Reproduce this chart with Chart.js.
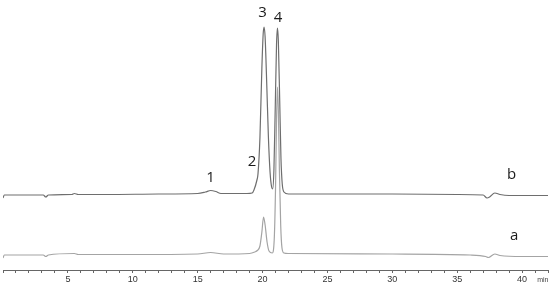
<!DOCTYPE html>
<html>
<head>
<meta charset="utf-8">
<script src="https://cdn.jsdelivr.net/npm/chart.js@4/dist/chart.umd.min.js"></script>
<style>
html,body{margin:0;padding:0;background:#fff;}
#wrap{width:550px;height:290px;position:relative;}
</style>
</head>
<body>
<div id="wrap"><canvas id="c" width="550" height="290"></canvas></div>
<script>
// Retention times (min) and detector response (arbitrary units) for trace b
const timeB = [0, 0.1, 1, 3.1, 3.3, 3.5, 5.3, 5.5, 5.8, 8, 12, 15, 15.6, 16.0, 16.4, 16.8, 18, 18.8, 19.2, 19.34, 19.57, 19.65, 19.8, 19.95, 20.05, 20.12, 20.2, 20.33, 20.45, 20.58, 20.7, 20.78, 20.88, 20.98, 21.08, 21.15, 21.22, 21.32, 21.42, 21.52, 21.65, 22, 25, 30, 35, 37, 37.3, 37.5, 37.9, 38.3, 39, 42];
const valueB = [72, 75, 75, 75, 73, 75, 75.5, 76.5, 75.5, 75.5, 76, 76.5, 78, 79.5, 78.5, 76.5, 76.5, 76.5, 77, 80, 90, 96, 132, 202, 236, 243, 233, 184, 134, 98, 83, 81, 101, 162, 226, 242, 229, 172, 112, 86, 78, 76, 76, 76, 75.5, 75, 72, 73, 77, 75.5, 74.5, 74.5];
// Trace a
const timeA = [0, 0.1, 3.1, 3.3, 3.5, 5.5, 5.8, 10, 15, 16, 17, 19, 19.4, 19.6, 19.8, 19.95, 20.08, 20.2, 20.35, 20.5, 20.75, 20.9, 21.0, 21.08, 21.15, 21.22, 21.3, 21.4, 21.5, 21.65, 22, 30, 36, 37.2, 37.4, 37.9, 38.3, 40, 42];
const valueA = [12, 15, 15, 13.5, 15, 16.5, 15.5, 15.5, 16, 17.5, 16, 16.5, 18, 19.5, 24, 38, 53, 45, 28, 19, 17, 30, 80, 150, 183, 160, 100, 45, 22, 17, 16.5, 16, 15, 13.5, 12.5, 16, 14.5, 13.5, 13.5];
// Axis
const tickLabels = ['5', '10', '15', '20', '25', '30', '35', '40'];
const axisUnit = 'min';
// Peak labels: text, time, response
const peakText = ['1', '2', '3', '4', 'b', 'a'];
const peakTime = [16.0, 19.2, 20.0, 21.2, 39.2, 39.4];
const peakValue = [92, 108, 257, 252, 95, 34];

function pts(t, v) { return t.map((x, i) => ({x: x, y: v[i]})); }

const labelPlugin = {
  id: 'labels',
  afterDraw(chart) {
    const ctx = chart.ctx;
    const xs = chart.scales.x, ys = chart.scales.y;
    ctx.save();
    ctx.fillStyle = '#1a1a1a';
    ctx.font = '15px "Open Sans"';
    ctx.textAlign = 'center';
    ctx.textBaseline = 'middle';
    peakText.forEach((s, i) => {
      ctx.fillText(s, xs.getPixelForValue(peakTime[i]), ys.getPixelForValue(peakValue[i]));
    });
    ctx.fillStyle = '#444';
    ctx.font = '7px "Liberation Sans"';
    ctx.fillText(axisUnit, xs.getPixelForValue(41.6), xs.bottom - 10);
    ctx.restore();
  }
};

new Chart(document.getElementById('c'), {
  type: 'line',
  data: {
    datasets: [
      {label: 'b', data: pts(timeB, valueB), borderColor: '#6e6e6e', borderWidth: 1.2, pointRadius: 0, cubicInterpolationMode: 'monotone', fill: false},
      {label: 'a', data: pts(timeA, valueA), borderColor: '#a4a4a4', borderWidth: 1.2, pointRadius: 0, cubicInterpolationMode: 'monotone', fill: false}
    ]
  },
  options: {
    responsive: false,
    animation: false,
    events: [],
    layout: {padding: {left: 3, right: 2, top: 0, bottom: 0}},
    plugins: {legend: {display: false}, tooltip: {enabled: false}},
    scales: {
      x: {
        type: 'linear', min: 0, max: 42,
        afterFit: (s) => { s.height = 20; },
        grid: {drawOnChartArea: false, tickLength: 3, color: '#666', tickWidth: 1},
        border: {color: '#666', width: 1},
        ticks: {
          stepSize: 1, autoSkip: false, maxRotation: 0, padding: 1,
          color: '#333', font: {size: 9, family: 'Liberation Sans'},
          callback: (v) => { const s = String(v); return tickLabels.includes(s) ? s : ''; }
        }
      },
      y: {display: false, min: 0, max: 270}
    }
  },
  plugins: [labelPlugin]
});
</script>
</body>
</html>
